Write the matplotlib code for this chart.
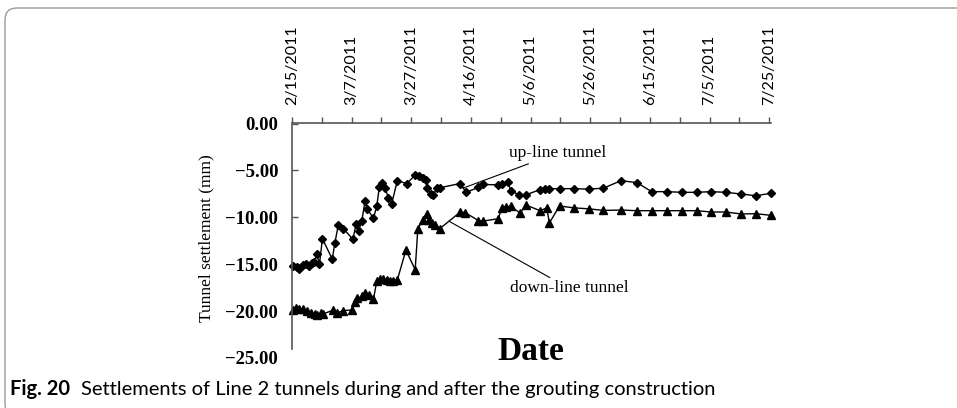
import datetime as dt
import matplotlib
matplotlib.use("Agg")
import matplotlib.pyplot as plt
import matplotlib.dates as mdates
from matplotlib.patches import FancyBboxPatch
from matplotlib.transforms import IdentityTransform
from matplotlib.ticker import FixedLocator, FixedFormatter

# ---------------- data ----------------
start_date = dt.date(2011, 2, 15)

# days since 2/15/2011
up_days = [0.2, 1.6, 2.5, 3.6, 4.7, 5.8, 6.6, 7.5, 8.3, 9.2, 10.2, 13.5, 14.4, 15.5,
           17.2, 20.4, 21.5, 22.3, 23.4, 24.5, 25.3, 27.3, 28.4, 29.3, 30.3, 31.2,
           32.3, 33.4, 35.3, 38.5, 41.3, 42.7, 43.8, 44.8, 45.4, 46.5, 47.4, 48.5,
           49.6, 56.4, 58.4, 62.5, 64.2, 69.2, 70.5, 72.3, 73.4, 76.2, 78.5, 83.2,
           84.9, 86.0, 89.7, 94.6, 99.6, 104.4, 110.3, 115.6, 120.6, 125.7, 130.7,
           135.7, 140.5, 145.5, 150.6, 155.5, 160.5]
up_values = [-15.2, -15.35, -15.55, -15.1, -15.0, -15.25, -14.85, -14.75, -13.9, -15.0,
             -12.3, -14.45, -12.7, -10.85, -11.2, -12.35, -10.75, -11.45, -10.4, -8.25,
             -9.15, -10.1, -8.85, -6.75, -6.3, -6.9, -7.9, -8.6, -6.1, -6.4, -5.5,
             -5.65, -5.85, -6.05, -6.9, -7.5, -7.65, -6.9, -6.85, -6.4, -7.35, -6.8,
             -6.5, -6.55, -6.5, -6.2, -7.2, -7.6, -7.6, -7.05, -6.95, -6.95, -6.95,
             -6.95, -7.0, -6.9, -6.1, -6.3, -7.27, -7.27, -7.34, -7.34, -7.27, -7.34,
             -7.52, -7.7, -7.45]

down_days = [0.2, 1.3, 2.4, 3.8, 4.9, 6.3, 7.7, 8.5, 9.6, 10.5, 13.9, 15.0, 17.0, 20.0,
             21.1, 21.9, 23.4, 24.5, 25.9, 27.3, 28.4, 29.5, 30.6, 31.7, 32.8, 33.9,
             35.3, 38.2, 41.3, 42.2, 43.9, 45.1, 45.9, 46.9, 48.0, 49.6, 56.4, 58.0,
             62.5, 64.2, 69.2, 70.3, 71.8, 73.3, 76.5, 78.5, 83.2, 85.4, 86.3, 89.7,
             94.6, 99.5, 104.4, 110.3, 115.6, 120.6, 125.7, 130.7, 135.7, 140.5,
             145.5, 150.6, 155.5, 160.5]
down_values = [-19.9, -19.7, -19.8, -19.8, -19.95, -20.2, -20.3, -20.45, -20.2, -20.3,
               -19.9, -20.25, -19.95, -19.9, -19.0, -18.65, -18.45, -18.05, -18.3,
               -18.75, -16.85, -16.6, -16.6, -16.7, -16.85, -16.85, -16.7, -13.5,
               -15.6, -11.2, -10.3, -9.6, -10.3, -10.65, -10.85, -11.2, -9.45, -9.5,
               -10.35, -10.4, -10.15, -9.0, -8.9, -8.85, -9.55, -8.7, -9.3, -9.0,
               -10.6, -8.8, -9.0, -9.1, -9.27, -9.23, -9.3, -9.3, -9.3, -9.3, -9.3,
               -9.44, -9.44, -9.65, -9.62, -9.79]

series_names = ["up-line tunnel", "down-line tunnel"]
y_ticks = [0, -5, -10, -15, -20, -25]
y_tick_labels = ["0.00", "\u22125.00", "\u221210.00", "\u221215.00", "\u221220.00", "\u221225.00"]
major_tick_days = [0, 20, 40, 60, 80, 100, 120, 140, 160]
minor_tick_days = [10, 30, 50, 70, 90, 110, 130, 150]
x_label = "Date"
y_label = "Tunnel settlement (mm)"
caption_bold = "Fig. 20"
caption_text = "Settlements of Line 2 tunnels during and after the grouting construction"

# ---------------- figure ----------------
W, H = 957, 408
fig = plt.figure(figsize=(W / 100, H / 100), dpi=100)

base = mdates.date2num(start_date)
def to_x(days):
    return [base + d for d in days]

ax_left, ax_right, ax_top, ax_bottom = 292, 771, 123.5, 357.9
ax = fig.add_axes([ax_left / W, 1 - ax_bottom / H, (ax_right - ax_left) / W,
                   (ax_bottom - ax_top) / H])
ax.set_facecolor("none")

ax.plot(to_x(up_days), up_values, color="black", lw=1.0, marker="D", markersize=4.2,
        clip_on=False)
ax.plot(to_x(down_days), down_values, color="black", lw=1.0, marker="^", markersize=5.5,
        clip_on=False)

ax.set_xlim(base, base + 160.6)
ax.set_ylim(-25, 0)

# x axis on top
major_x = to_x(major_tick_days)
major_labels = []
for d in major_tick_days:
    dd = start_date + dt.timedelta(days=d)
    major_labels.append(f"{dd.month}/{dd.day}/{dd.year}")
ax.xaxis.set_major_locator(FixedLocator(major_x))
ax.xaxis.set_major_formatter(FixedFormatter(major_labels))
ax.xaxis.set_minor_locator(FixedLocator(to_x(minor_tick_days)))
ax.xaxis.tick_top()
ax.tick_params(axis="x", which="both", direction="out", length=4, width=1.0,
               color="#555555", top=True, bottom=False, labeltop=True,
               labelbottom=False, pad=9)
for lab in ax.get_xticklabels():
    lab.set_rotation(90)
    lab.set_fontfamily("Lato")
    lab.set_fontsize(11.5)
    lab.set_ha("center")
    lab.set_va("bottom")

# y axis
ax.yaxis.set_major_locator(FixedLocator(y_ticks))
ax.yaxis.set_major_formatter(FixedFormatter(y_tick_labels))
ax.tick_params(axis="y", which="major", direction="in", length=4, width=1.0,
               color="#555555", pad=10)
for lab in ax.get_yticklabels():
    lab.set_fontfamily("Liberation Serif")
    lab.set_fontweight("bold")
    lab.set_fontsize(13.5)

for s in ["right", "bottom"]:
    ax.spines[s].set_visible(False)
for s in ["top", "left"]:
    ax.spines[s].set_color("#555555")
    ax.spines[s].set_linewidth(1.2)
ax.spines["left"].set_bounds(-24, 0)
ax.yaxis.get_major_ticks()[-1].tick1line.set_visible(False)

# annotations
ax.annotate(series_names[0], xy=(base + 57.3, -6.9), xytext=(base + 72.7, -3.15),
            fontsize=12.5, family="Liberation Serif", ha="left", va="center",
            arrowprops=dict(arrowstyle="-", lw=0.8, color="black",
                            shrinkA=0, shrinkB=0))
ax.annotate(series_names[1], xy=(base + 52.8, -10.45), xytext=(base + 73.0, -17.58),
            fontsize=12.5, family="Liberation Serif", ha="left", va="center",
            arrowprops=dict(arrowstyle="-", lw=0.8, color="black",
                            shrinkA=0, shrinkB=0))

# axis titles
fig.text(206.7 / W, 1 - 238 / H, y_label, rotation=90, fontsize=12.5,
         family="Liberation Serif", ha="center", va="center")
fig.text(531 / W, 1 - 352 / H, x_label, fontsize=24, fontweight="bold",
         family="Liberation Serif", ha="center", va="center")

# caption: size fitted so it spans the same width as in the reference
fs0 = 12.0
t1 = fig.text(10 / W, 1 - 389 / H, caption_bold, fontsize=fs0, fontweight="bold",
              family="Lato", ha="left", va="center")
t2 = fig.text(0, 1 - 389 / H, caption_text, fontsize=fs0,
              family="Lato", ha="left", va="center")
fig.canvas.draw()
r = fig.canvas.get_renderer()
w1 = t1.get_window_extent(r).width
w2 = t2.get_window_extent(r).width
gap = 0.75 * fs0
scale = (716 - 10) / (w1 + gap + w2)
fs = fs0 * scale
t1.set_fontsize(fs)
t2.set_fontsize(fs)
t2.set_x((10 + (w1 + gap) * scale) / W)

# frame
frame = FancyBboxPatch((5, -8), 1000, H, boxstyle="round,pad=0,rounding_size=12",
                       transform=IdentityTransform(), fill=False,
                       edgecolor="#9a9a9a", lw=1.0)
fig.add_artist(frame)

fig.savefig("out.png", dpi=100)
